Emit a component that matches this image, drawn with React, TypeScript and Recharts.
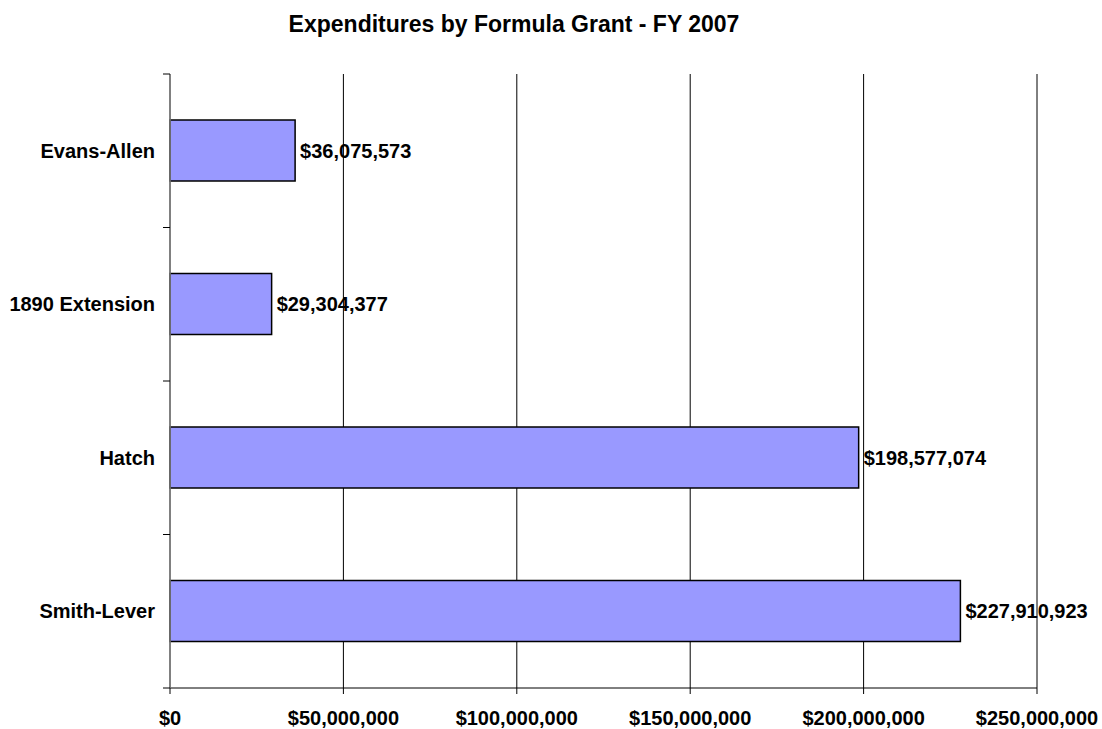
import { BarChart, Bar, XAxis, YAxis, CartesianGrid, LabelList } from "recharts";

const CATEGORIES = ["Evans-Allen", "1890 Extension", "Hatch", "Smith-Lever"];
const AMOUNTS = [36075573, 29304377, 198577074, 227910923];
const X_TICKS = [0, 50000000, 100000000, 150000000, 200000000, 250000000];

const W = 1102;
const H = 729;
const M_TOP = 74;
const M_RIGHT = 65;
const X_AXIS_H = 41;
const Y_AXIS_W = 170;
const PLOT_H = H - M_TOP - X_AXIS_H;
const FONT = '"Liberation Sans", Arial, Helvetica, sans-serif';

const money = (v: number) => "$" + v.toLocaleString("en-US");

const data = CATEGORIES.map((name, i) => ({ name, amount: AMOUNTS[i] }));

const CategoryTick = (props: any) => {
  const { y, payload, index } = props;
  const half = PLOT_H / CATEGORIES.length / 2;
  const last = index === CATEGORIES.length - 1;
  return (
    <g>
      <line x1={Y_AXIS_W - 7} x2={Y_AXIS_W} y1={y - half} y2={y - half} stroke="#000" />
      {last && (
        <line x1={Y_AXIS_W - 7} x2={Y_AXIS_W} y1={y + half} y2={y + half} stroke="#000" />
      )}
      <text
        x={Y_AXIS_W - 15}
        y={y}
        dy="0.355em"
        textAnchor="end"
        fill="#000"
        fontSize={20}
        fontWeight="bold"
        fontFamily={FONT}
      >
        {payload.value}
      </text>
    </g>
  );
};

export default function App() {
  return (
    <div style={{ position: "absolute", left: 0, top: 0, width: W, height: H, background: "#fff" }}>
      <div
        style={{
          position: "absolute",
          left: 514,
          top: 13,
          transform: "translateX(-50%)",
          whiteSpace: "nowrap",
          fontFamily: FONT,
          fontWeight: "bold",
          fontSize: 23,
          lineHeight: "23px",
          color: "#000",
        }}
      >
        Expenditures by Formula Grant - FY 2007
      </div>
      <BarChart
        width={W}
        height={H}
        data={data}
        layout="vertical"
        margin={{ top: M_TOP, right: M_RIGHT, bottom: 0, left: 0 }}
        barCategoryGap="30%"
      >
        <CartesianGrid horizontal={false} stroke="#000" strokeWidth={1} />
        <XAxis
          type="number"
          domain={[0, 250000000]}
          ticks={X_TICKS}
          tickFormatter={money}
          height={X_AXIS_H}
          axisLine={{ stroke: "#000" }}
          tickLine={{ stroke: "#000" }}
          tickSize={6}
          tickMargin={17}
          tick={{ fill: "#000", fontSize: 20, fontWeight: "bold", fontFamily: FONT }}
          interval={0}
        />
        <YAxis
          type="category"
          dataKey="name"
          width={Y_AXIS_W}
          axisLine={{ stroke: "#808080", strokeWidth: 1.5 }}
          tickLine={false}
          tick={<CategoryTick />}
          interval={0}
        />
        <Bar dataKey="amount" fill="#9999FF" stroke="#000" strokeWidth={1.5} isAnimationActive={false}>
          <LabelList
            dataKey="amount"
            position="right"
            offset={5}
            formatter={(v: any) => money(Number(v))}
            fill="#000"
            fontSize={20}
            fontWeight="bold"
            fontFamily={FONT}
          />
        </Bar>
      </BarChart>
    </div>
  );
}
